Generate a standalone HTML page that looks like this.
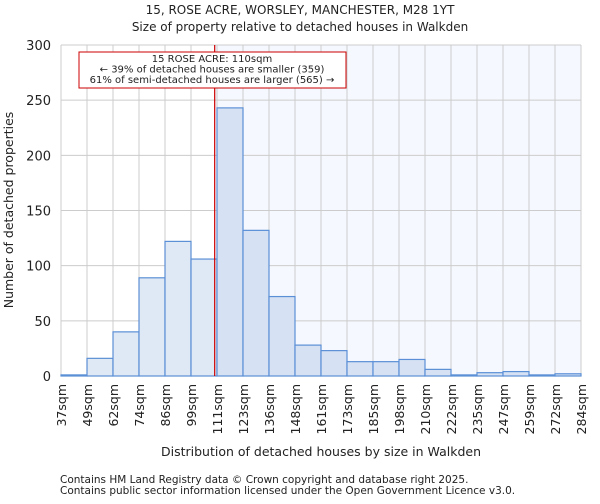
<!DOCTYPE html>
<html><head><meta charset="utf-8"><style>
body{margin:0;background:#fff;font-family:"DejaVu Sans","Liberation Sans",sans-serif;}
svg text{font-family:"DejaVu Sans","Liberation Sans",sans-serif;fill:#222;}
</style></head><body>
<svg id="chart" width="600" height="500" viewBox="0 0 600 500">
<text x="300" y="14" text-anchor="middle" font-size="12">15, ROSE ACRE, WORSLEY, MANCHESTER, M28 1YT</text>
<text x="300" y="31" text-anchor="middle" font-size="12">Size of property relative to detached houses in Walkden</text>
<g id="plot"></g>
<text x="321" y="456" text-anchor="middle" font-size="12.5">Distribution of detached houses by size in Walkden</text>
<text transform="translate(13,210) rotate(-90)" text-anchor="middle" font-size="12.5">Number of detached properties</text>
<text x="60" y="483" font-size="10.5" fill="#444">Contains HM Land Registry data © Crown copyright and database right 2025.</text>
<text x="60" y="494" font-size="10.5" fill="#444">Contains public sector information licensed under the Open Government Licence v3.0.</text>
</svg>
<script>
const categories=["37sqm","49sqm","62sqm","74sqm","86sqm","99sqm","111sqm","123sqm","136sqm","148sqm","161sqm","173sqm","185sqm","198sqm","210sqm","222sqm","235sqm","247sqm","259sqm","272sqm","284sqm"];
const counts=[1,16,40,89,122,106,243,132,72,28,23,13,13,15,6,1,3,4,1,2];
const yTicks=[0,50,100,150,200,250,300];
const markerValue=110;
const binStart=37, binWidth=12.35;
const NS="http://www.w3.org/2000/svg";
const g=document.getElementById('plot');
const X0=61,X1=581,Y0=376,Y1=45;
const bw=(X1-X0)/counts.length;
const xBin=i=>X0+i*bw;
const xVal=v=>X0+(v-binStart)/binWidth*bw;
const y=v=>Y0-(v/300)*(Y0-Y1);
function el(t,a){const e=document.createElementNS(NS,t);for(const k in a)e.setAttribute(k,a[k]);g.appendChild(e);return e;}
const mx=xVal(markerValue);
let r=el('rect',{x:mx,y:Y1,width:X1-mx,height:Y0-Y1,fill:'#f5f8fe'});


for(let i=0;i<=counts.length;i++){
 let l=el('line',{x1:xBin(i),x2:xBin(i),y1:Y1,y2:Y0,stroke:'#cccccc','stroke-width':1});
 
 
}
yTicks.forEach(t=>{
 let l=el('line',{x1:X0,x2:X1,y1:y(t),y2:y(t),stroke:'#cccccc','stroke-width':1});
 
 
 let tx=el('text',{x:X0-10,y:y(t)+5,'text-anchor':'end','font-size':'13'});tx.textContent=t;
 
 
});
counts.forEach((c,i)=>{
 const after=xBin(i)>=mx-1;
 let b=el('rect',{x:xBin(i),y:y(c),width:bw,height:Y0-y(c),fill:after?'#d6e2f3':'#dfe8f5',stroke:'#5b8fd6','stroke-width':1.2});
 
 
});
categories.forEach((c,i)=>{
 let tx=el('text',{transform:`translate(${xBin(i)+5},${Y0+8}) rotate(-90)`,'text-anchor':'end','font-size':'12.5'});tx.textContent=c;
 
 
});
let ml=el('line',{x1:mx,x2:mx,y1:Y1,y2:Y0,stroke:'#cc0000','stroke-width':1.2});


let ab=el('rect',{x:79,y:52,width:267,height:36,fill:'#fff',stroke:'#cc0000','stroke-width':1});


["15 ROSE ACRE: 110sqm","← 39% of detached houses are smaller (359)","61% of semi-detached houses are larger (565) →"].forEach((s,i)=>{
 let tx=el('text',{x:212,y:62+i*10.5,'text-anchor':'middle','font-size':'10','textLength':i==0?null:null});tx.textContent=s;
 
 
});
</script>
</body></html>
